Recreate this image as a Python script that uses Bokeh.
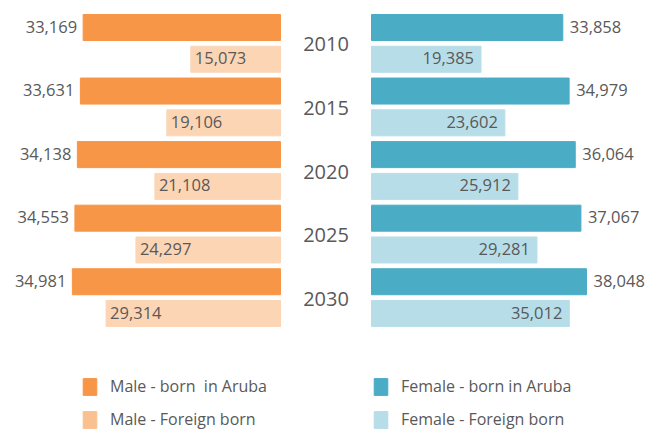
from bokeh.plotting import figure
from bokeh.models import Range1d, ColumnDataSource, Legend, LegendItem
from bokeh.core.properties import value
from bokeh.embed import file_html
from bokeh.resources import INLINE

years = ["2010", "2015", "2020", "2025", "2030"]
male_born = [33169, 33631, 34138, 34553, 34981]
male_foreign = [15073, 19106, 21108, 24297, 29314]
female_born = [33858, 34979, 36064, 37067, 38048]
female_foreign = [19385, 23602, 25912, 29281, 35012]

labels = ["Male - born  in Aruba", "Male - Foreign born",
          "Female - born in Aruba", "Female - Foreign born"]

C_MB, C_MF = "#F79646", "#FCD5B5"
C_FB, C_FF = "#4BACC6", "#B7DEE8"
C_MF_LEG, C_FF_LEG = "#FAC090", "#B7DDE8"
TXT = "#595959"
FONT = "Open Sans"

W, H = 661, 430
PITCH = 31.78                 # px per bar slot
TOP = 27.0                    # px from frame top to centre of first slot
male_zero_px, male_ppu = 280.0, 0.00595
fem_zero_px, fem_ppu = 371.0, 0.00565

y_start = -TOP / PITCH
y_end = y_start + H / PITCH

p = figure(width=W, height=H, output_backend="svg", toolbar_location=None,
           x_range=Range1d(-fem_zero_px / fem_ppu, (W - fem_zero_px) / fem_ppu),
           y_range=Range1d(y_end, y_start), min_border=0)
p.extra_x_ranges = {"male": Range1d(male_zero_px / male_ppu, -(W - male_zero_px) / male_ppu)}
p.axis.visible = False
p.grid.visible = False
p.outline_line_color = None
p.background_fill_color = None
p.border_fill_color = None

n = len(years)
y_born = [2 * i for i in range(n)]
y_for = [2 * i + 1 for i in range(n)]
y_year = [2 * i + 0.5 for i in range(n)]
bh = 26 / PITCH

def fmt(vs):
    return [f"{v:,}" for v in vs]

src = ColumnDataSource(dict(yb=y_born, yf=y_for, yy=y_year, years=years,
                            mb=male_born, mf=male_foreign, fb=female_born, ff=female_foreign,
                            mbl=fmt(male_born), mfl=fmt(male_foreign),
                            fbl=fmt(female_born), ffl=fmt(female_foreign),
                            zero=[0] * n))

p.hbar(y="yb", left="zero", right="mb", height=bh, color=C_MB, source=src, x_range_name="male")
p.hbar(y="yf", left="zero", right="mf", height=bh, color=C_MF, source=src, x_range_name="male")
p.hbar(y="yb", left="zero", right="fb", height=bh, color=C_FB, source=src)
p.hbar(y="yf", left="zero", right="ff", height=bh, color=C_FF, source=src)

common = dict(text_font=value(FONT), text_font_size="16.5px", text_color=TXT,
              text_baseline="middle", y_offset=-1, source=src)
p.text(x="mb", y="yb", text="mbl", text_align="right", x_offset=-6, x_range_name="male", **common)
p.text(x="mf", y="yf", text="mfl", text_align="left", x_offset=4, x_range_name="male", **common)
p.text(x="fb", y="yb", text="fbl", text_align="left", x_offset=7, **common)
p.text(x="ff", y="yf", text="ffl", text_align="right", x_offset=-7, **common)

p.text(x="zero", y="yy", text="years", text_align="center", text_baseline="middle",
       x_offset=(male_zero_px - fem_zero_px) / 2, y_offset=1, text_font=value(FONT),
       text_font_size="20px", text_color=TXT, source=src)

# legend swatches (hidden dummy renderers carrying the legend colours)
nan = float("nan")
leg_src = ColumnDataSource(dict(x=[nan], y=[nan]))
r1 = p.rect(x="x", y="y", width=1, height=1, color=C_MB, source=leg_src)
r2 = p.rect(x="x", y="y", width=1, height=1, color=C_MF_LEG, source=leg_src)
r3 = p.rect(x="x", y="y", width=1, height=1, color=C_FB, source=leg_src)
r4 = p.rect(x="x", y="y", width=1, height=1, color=C_FF_LEG, source=leg_src)

def make_legend(items, x):
    lg = Legend(items=items, location=(x, 0), orientation="vertical",
                glyph_width=17, glyph_height=21, label_height=21, label_standoff=12,
                spacing=11, padding=0, margin=0, border_line_color=None,
                background_fill_alpha=0, label_text_font=FONT,
                label_text_font_size="16px", label_text_color=TXT)
    p.add_layout(lg, "center")

make_legend([LegendItem(label=labels[0], renderers=[r1]),
             LegendItem(label=labels[1], renderers=[r2])], 81)
make_legend([LegendItem(label=labels[2], renderers=[r3]),
             LegendItem(label=labels[3], renderers=[r4])], 372)

open("out.html", "w").write(file_html(p, INLINE))
